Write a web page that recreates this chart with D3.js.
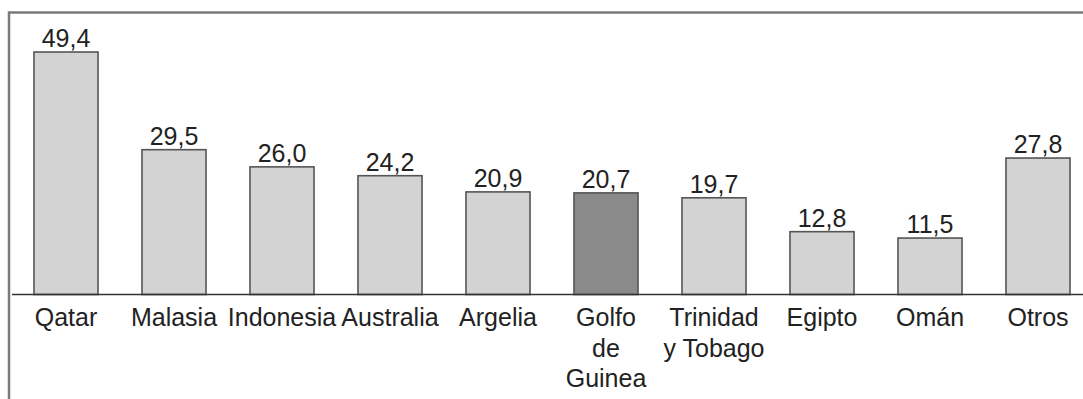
<!DOCTYPE html>
<html>
<head>
<meta charset="utf-8">
<script src="https://cdn.jsdelivr.net/npm/d3@7"></script>
<style>
  body { margin: 0; background: #fff; }
  svg { display: block; font-family: "Liberation Sans", Arial, sans-serif; }
</style>
</head>
<body>
<svg id="chart" width="1083" height="399"></svg>
<script>
// Categories (multi-line labels split with "|") and their values
const categories = ["Qatar", "Malasia", "Indonesia", "Australia", "Argelia",
                    "Golfo|de|Guinea", "Trinidad|y Tobago", "Egipto", "Omán", "Otros"];
const values = [49.4, 29.5, 26.0, 24.2, 20.9, 20.7, 19.7, 12.8, 11.5, 27.8];
const highlighted = ["Golfo|de|Guinea"];

const svg = d3.select("#chart");

// Set up the figure dimensions
const margin = {left: 12, right: -9},
    width = 1083,
    baseY = 294.5,
    topY = 52;

// x scale: band per category
const x = d3.scaleBand()
    .domain(categories)
    .range([margin.left, width - margin.right])
    .paddingInner(0.407)
    .paddingOuter(0.2035);

// y scale: value to height
const y = d3.scaleLinear()
    .domain([0, d3.max(values)])
    .range([baseY, topY]);

const data = categories.map((c, i) => ({cat: c, val: values[i]}));

// Outer frame (top and left only)
svg.append("path")
    .attr("d", "M9,399 V12.5 H1083")
    .attr("fill", "none")
    .attr("stroke", "#7a7a7a")
    .attr("stroke-width", 2.5);

// Bars
svg.selectAll("rect.bar")
    .data(data)
    .enter()
    .append("rect")
    .attr("class", "bar")
    .attr("x", d => x(d.cat))
    .attr("y", d => y(d.val))
    .attr("width", x.bandwidth())
    .attr("height", d => baseY - y(d.val))
    .style("fill", d => highlighted.includes(d.cat) ? "#8a8a8a" : "#d3d3d3")
    .style("stroke", "#555")
    .style("stroke-width", 1.6);

// Baseline via axis
const xAxis = svg.append("g")
    .attr("transform", "translate(0," + baseY + ")")
    .call(d3.axisBottom(x).tickSize(0).tickFormat(""));
xAxis.select(".domain")
    .attr("d", "M12,0H1083")
    .attr("stroke", "#333")
    .attr("stroke-width", 1.6);

// Category labels
const fmt = v => d3.format(".1f")(v).replace(".", ",");
const labels = svg.selectAll("text.cat")
    .data(data)
    .enter()
    .append("text")
    .attr("class", "cat")
    .attr("x", d => x(d.cat) + x.bandwidth() / 2)
    .attr("y", 326)
    .attr("text-anchor", "middle")
    .style("font-size", "25px")
    .style("fill", "#222");
labels.each(function(d) {
    const parts = d.cat.split("|");
    d3.select(this).selectAll("tspan")
        .data(parts)
        .enter()
        .append("tspan")
        .attr("x", x(d.cat) + x.bandwidth() / 2)
        .attr("dy", (p, i) => i === 0 ? 0 : 30.5)
        .text(p => p);
});

// Value labels above bars
svg.selectAll("text.val")
    .data(data)
    .enter()
    .append("text")
    .attr("class", "val")
    .attr("x", d => x(d.cat) + x.bandwidth() / 2)
    .attr("y", d => y(d.val) - 5)
    .attr("text-anchor", "middle")
    .style("font-size", "25px")
    .style("fill", "#222")
    .text(d => fmt(d.val));
</script>
</body>
</html>
